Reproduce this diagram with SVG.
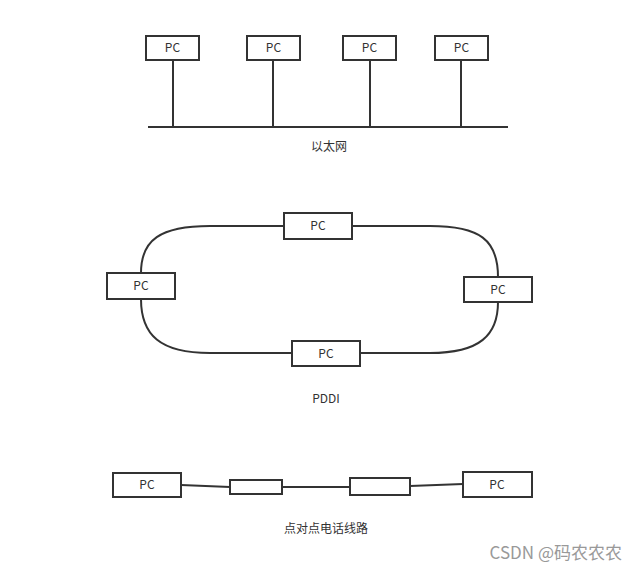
<svg xmlns="http://www.w3.org/2000/svg" width="638" height="572" viewBox="0 0 638 572">
<style>
.b{fill:#fff;stroke:#333;stroke-width:2}
.l{fill:none;stroke:#333;stroke-width:2}
text{font-family:"Noto Sans CJK SC","Liberation Sans",sans-serif;font-size:12px;fill:#333;text-anchor:middle}
</style>
<rect width="638" height="572" fill="#fff"/>
<g id="connectors">
<path class="l" d="M148 127H508M173 60V127M273 60V127M370 60V127M461 60V127"/>
<path class="l" d="M284 226H210C160 226 141 240 141 273M352 226H430C480 226 498 240 498 277M141 299C141 335 160 353 210 353H292M498 302C498 335 480 353 430 353H360"/>
<path class="l" d="M181 485L230 487M282 487H350M410 486L463 484"/>
</g>
<g id="e1"><rect class="b" x="146" y="36" width="53" height="24"/><text x="172.5" y="52">PC</text></g>
<g id="e2"><rect class="b" x="247" y="36" width="53" height="24"/><text x="273.5" y="52">PC</text></g>
<g id="e3"><rect class="b" x="343" y="36" width="53" height="24"/><text x="369.5" y="52">PC</text></g>
<g id="e4"><rect class="b" x="435" y="36" width="53" height="24"/><text x="461.5" y="52">PC</text></g>
<text x="329" y="151">以太网</text>
<g id="r1"><rect class="b" x="284" y="213" width="68" height="26"/><text x="318" y="230">PC</text></g>
<g id="r2"><rect class="b" x="107" y="273" width="68" height="26"/><text x="141" y="290">PC</text></g>
<g id="r3"><rect class="b" x="464" y="277" width="68" height="25"/><text x="498" y="294">PC</text></g>
<g id="r4"><rect class="b" x="292" y="341" width="68" height="25"/><text x="326" y="358">PC</text></g>
<text x="326" y="403">PDDI</text>
<g id="p1"><rect class="b" x="113" y="473" width="68" height="24"/><text x="147" y="489">PC</text></g>
<g id="m1"><rect class="b" x="230" y="480" width="52" height="14"/></g>
<g id="m2"><rect class="b" x="350" y="478" width="60" height="17"/></g>
<g id="p2"><rect class="b" x="463" y="472" width="69" height="25"/><text x="497" y="489">PC</text></g>
<text x="326" y="533">点对点电话线路</text>
<text x="622" y="559" style="font-size:17px;fill:#999;text-anchor:end">CSDN @码农农农</text>
</svg>
